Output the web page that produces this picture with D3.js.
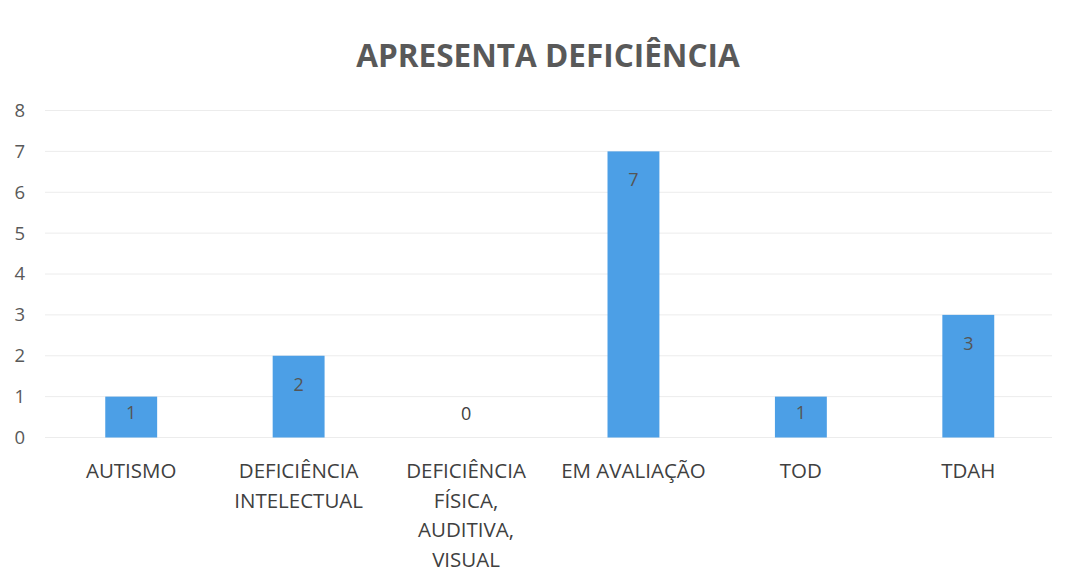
<!DOCTYPE html>
<html><head><meta charset="utf-8">
<script src="https://cdn.jsdelivr.net/npm/d3@7"></script>
<style>
html,body{margin:0;padding:0;background:#fff;}
svg{display:block;}
</style></head>
<body>
<svg id="chart" width="1070" height="583"></svg>
<script>
const title = "APRESENTA DEFICIÊNCIA";
const categories = ["AUTISMO", "DEFICIÊNCIA INTELECTUAL", "DEFICIÊNCIA FÍSICA, AUDITIVA, VISUAL", "EM AVALIAÇÃO", "TOD", "TDAH"];
const values = [1, 2, 0, 7, 1, 3];
const yTicks = [0, 1, 2, 3, 4, 5, 6, 7, 8];

const W = 1070, H = 583;
const margin = {left: 47.5, right: 18, top: 110.5, bottom: 146};
const svg = d3.select("#chart");
const font = "'Open Sans', 'Noto Sans', sans-serif";

const x = d3.scaleBand().domain(categories).range([margin.left, W - margin.right]).paddingInner(0.69).paddingOuter(0.345);
const y = d3.scaleLinear().domain([0, 8]).range([H - margin.bottom + 0.5, margin.top]);

// gridlines
svg.append("g").selectAll("line").data(yTicks).join("line")
  .attr("x1", 45).attr("x2", W - 18)
  .attr("y1", d => y(d)).attr("y2", d => y(d))
  .attr("stroke", "#ececec").attr("stroke-width", 1);

// y axis labels
const yAxis = d3.axisLeft(y).tickValues(yTicks).tickSize(0).tickPadding(0).tickFormat(d3.format("d"));
const ya = svg.append("g").attr("transform", "translate(25,0)").call(yAxis);
ya.select(".domain").remove();
ya.selectAll("text").attr("font-family", font).attr("font-size", 18.5).attr("fill", "#595959");

// bars
svg.append("g").selectAll("rect").data(values).join("rect")
  .attr("x", (d, i) => x(categories[i]))
  .attr("width", x.bandwidth())
  .attr("y", d => y(d))
  .attr("height", d => y(0) - y(d))
  .attr("fill", "#4c9fe6");

// value labels
svg.append("g").selectAll("text").data(values).join("text")
  .attr("x", (d, i) => x(categories[i]) + x.bandwidth() / 2)
  .attr("y", d => {
    const h = y(0) - y(d);
    if (d === 0) return y(0) - 25;
    return y(d) + Math.min(28, h / 2 - 5);
  })
  .attr("text-anchor", "middle").attr("dominant-baseline", "central")
  .attr("font-family", font).attr("font-size", 18)
  .attr("fill", d => d === 0 ? "#404040" : "#555555")
  .text(d => d);

// x axis labels with wrapping
const xg = svg.append("g");
categories.forEach((c, i) => {
  const t = xg.append("text")
    .attr("x", x(c) + x.bandwidth() / 2)
    .attr("text-anchor", "middle")
    .attr("font-family", font).attr("font-size", 20.5).attr("fill", "#404040");
  const words = c.split(" ");
  let lines = [], cur = [];
  words.forEach(w => {
    const test = cur.concat([w]).join(" ");
    const ts = t.append("tspan").text(test);
    const len = ts.node().getComputedTextLength();
    ts.remove();
    if (len > 160 && cur.length) { lines.push(cur.join(" ")); cur = [w]; }
    else cur.push(w);
  });
  lines.push(cur.join(" "));
  lines.forEach((l, k) => {
    t.append("tspan").attr("x", x(c) + x.bandwidth() / 2)
      .attr("y", 470 + k * 29.5).attr("dominant-baseline", "central").text(l);
  });
});

// title
svg.append("text").attr("x", 548).attr("y", 54)
  .attr("text-anchor", "middle").attr("dominant-baseline", "central")
  .attr("font-family", font).attr("font-weight", "bold").attr("font-size", 31.5)
  .attr("fill", "#595959").text(title);
</script>
</body></html>
